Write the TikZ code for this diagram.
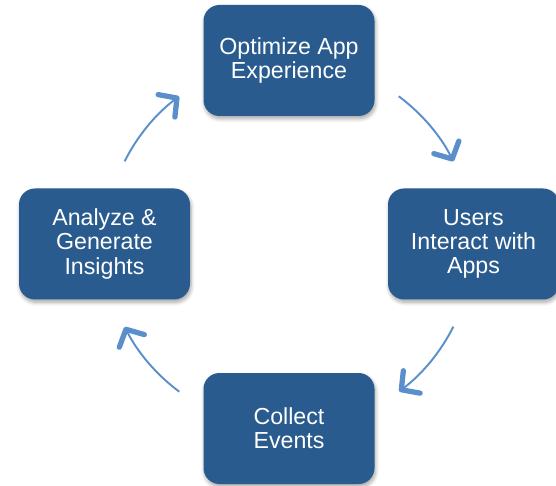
\documentclass[tikz,border=0pt]{standalone}
\usepackage{fontspec}
\setmainfont{Liberation Sans}
\usetikzlibrary{arrows.meta,shadows.blur}
\definecolor{boxblue}{RGB}{41,91,142}
\definecolor{arrowblue}{RGB}{90,143,203}

\begin{document}
\begin{tikzpicture}[
		stage/.style={fill=boxblue, rounded corners=0.32cm, minimum width=3.42cm, minimum height=2.22cm,
			align=center, text=white, font=\fontsize{13.2}{13.8}\selectfont,
			blur shadow={shadow xshift=0.6pt, shadow yshift=-1.6pt, shadow blur steps=6, shadow opacity=35}},
		flowarrow/.style={draw=arrowblue, line width=1.1pt,
			-{Straight Barb[length=0.26cm, width=0.56cm, line width=3pt, round]}}
	]
				\useasboundingbox (0, 0) rectangle (11.12, 9.70);
				\coordinate (hub) at (5.78, 4.82);
				\node[stage] (optimize) at (5.78, 8.49) {Optimize App\\Experience};
				\node[stage] (interact) at (9.47, 4.82) {Users\\Interact with\\Apps};
				\node[stage] (collect) at (5.78, 1.13) {Collect\\Events};
				\node[stage] (analyze) at (2.09, 4.82) {Analyze \&\\Generate\\Insights};
				\draw [flowarrow] (hub) ++(53.4:3.68) arc[start angle=53.4, end angle=26.7, radius=3.68];
				\draw [flowarrow] (hub) ++(-26.7:3.68) arc[start angle=-26.7, end angle=-53.2, radius=3.68];
				\draw [flowarrow] (hub) ++(-126.6:3.68) arc[start angle=-126.6, end angle=-153.2, radius=3.68];
				\draw [flowarrow] (hub) ++(153.3:3.68) arc[start angle=153.3, end angle=126.7, radius=3.68];
			\end{tikzpicture}
\end{document}
